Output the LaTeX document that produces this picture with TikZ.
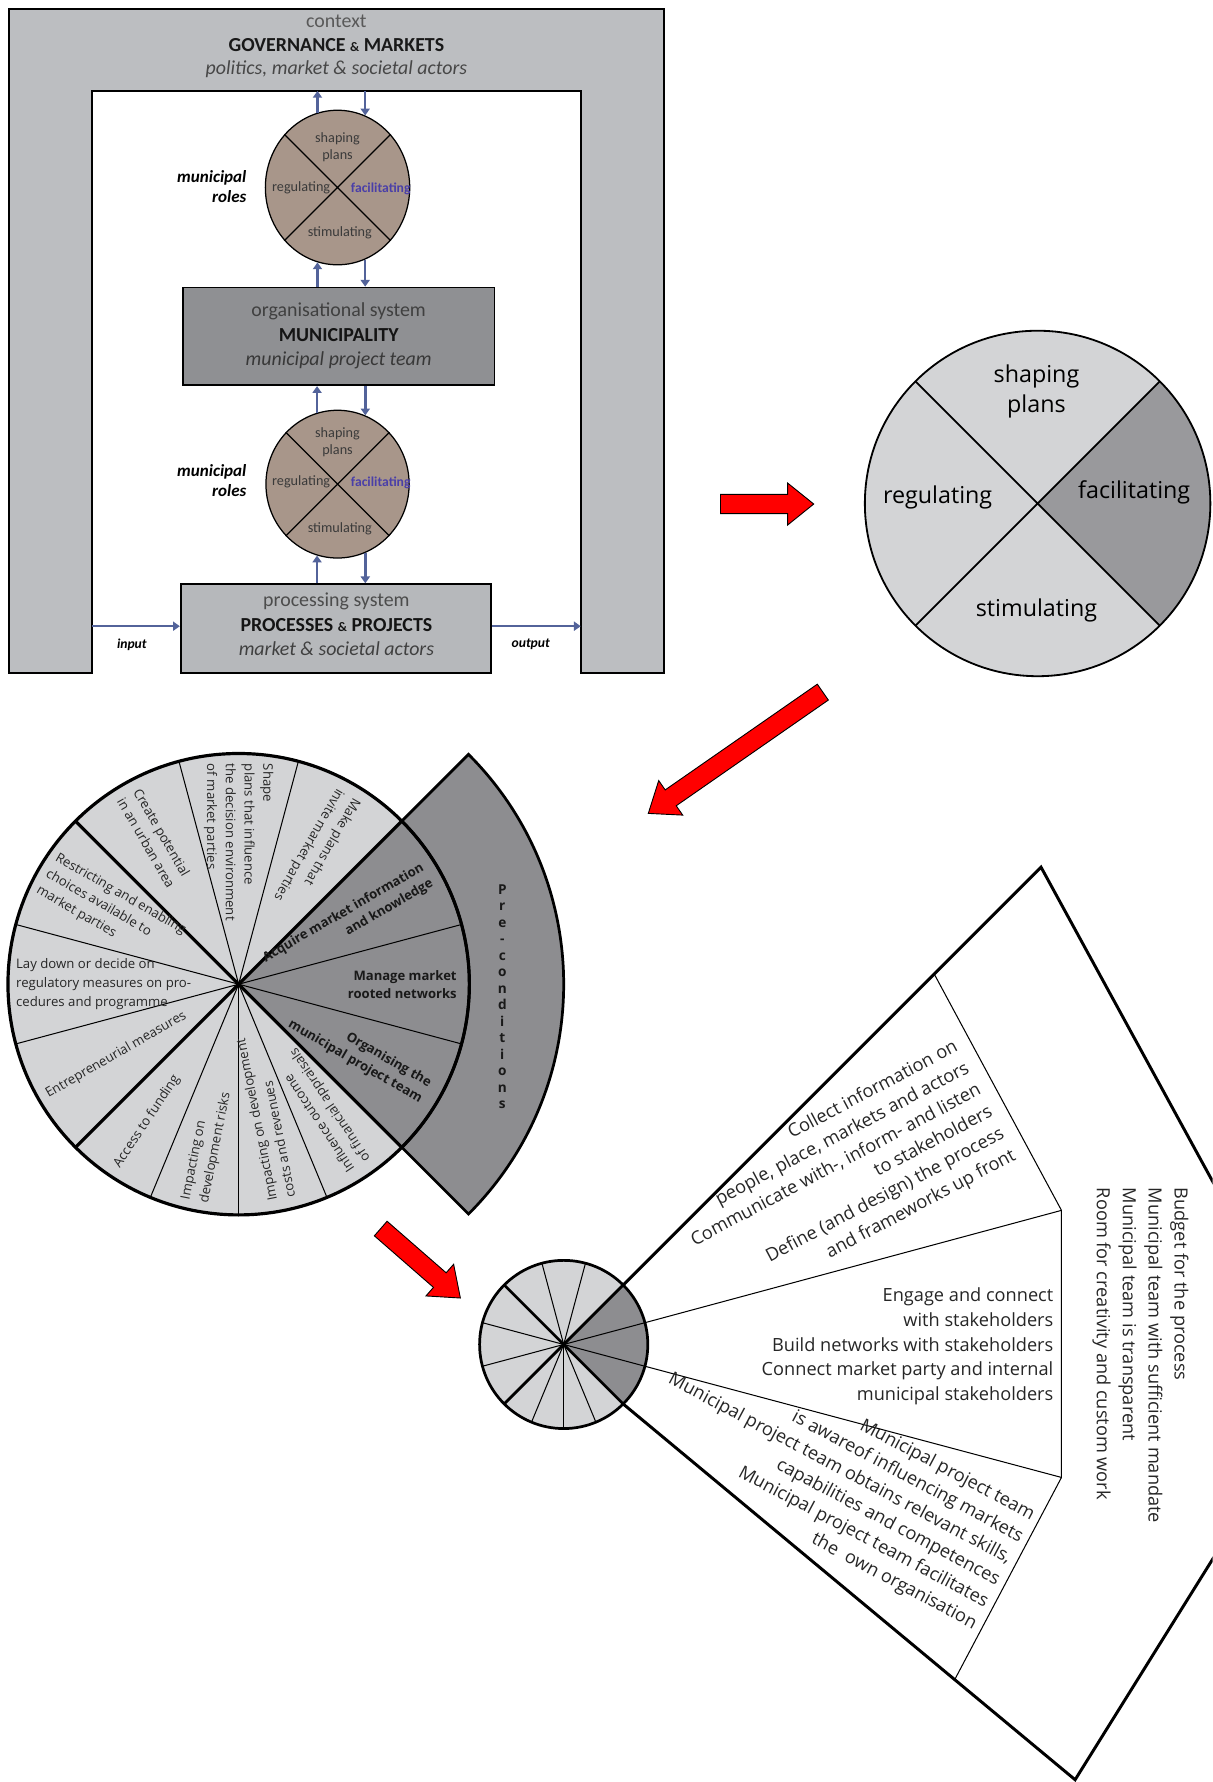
\documentclass[tikz,border=0pt]{standalone}
\usepackage{fontspec}
\setmainfont{Open Sans}
\newfontfamily\calfont{Carlito}
\usetikzlibrary{shapes.geometric,arrows.meta}

\definecolor{framegray}{HTML}{BCBEC1}
\definecolor{munigray}{HTML}{8F9093}
\definecolor{procgray}{HTML}{B6B8BB}
\definecolor{taupe}{HTML}{A8968A}
\definecolor{flowblue}{HTML}{53639A}
\definecolor{facblue}{HTML}{4A3FA8}
\definecolor{seclight}{HTML}{D3D4D6}
\definecolor{secdark}{HTML}{8D8D90}
\definecolor{roledark}{HTML}{99999C}
\definecolor{inkgray}{HTML}{3A3A3A}

\newcommand\fsz[2]{\fontsize{#1}{#2}\selectfont}

\begin{document}
\begin{tikzpicture}[x=1pt,y=1pt,
  frameline/.style={line width=1.5pt},
  flow/.style={draw=flowblue, line width=2.2pt, -{Triangle[length=6pt,width=8pt]}},
  toptext/.style={inner sep=0, font=\calfont\fsz{17.5}{20}},
  boxtext/.style={inner sep=0, font=\calfont\fsz{17.5}{20}},
  roletext/.style={inner sep=0, text=inkgray, align=center, font=\calfont\fsz{12.5}{15}},
  rolelabel/.style={inner sep=0, align=right, anchor=east, font=\calfont\bfseries\itshape\fsz{15}{18}},
  iolabel/.style={inner sep=0, font=\calfont\bfseries\itshape\fsz{12}{14}},
  rolesector/.style={inner sep=0, font=\fsz{20.5}{27}, align=center},
  wtext/.style={inner sep=0, align=left, anchor=west, text=black!85, font=\fsz{11.6}{16.5}},
  wbold/.style={inner sep=0, align=right, anchor=east, text=black!90, font=\bfseries\fsz{11.5}{16}},
  ftext/.style={inner sep=0, text=black!85, font=\fsz{16}{21.7}},
  thinline/.style={line width=0.9pt},
  thickline/.style={line width=2.8pt},
  redarr/.style={fill=red, draw=black, line width=0.8pt, line join=miter}
]
\useasboundingbox (0,0) rectangle (1067,-1568);
\fill[white] (0,0) rectangle (1067,-1568);

% ---------------- systems diagram ----------------
\draw[frameline, fill=framegray]
  (8,-592) -- (8,-8) -- (584,-8) -- (584,-592) -- (511,-592) -- (511,-80)
  -- (81,-80) -- (81,-592) -- cycle;
\coordinate (innerTop) at (81,-80);
\coordinate (inL) at (81,-551);
\coordinate (outR) at (511,-551);

\node[toptext, text=black!65] (ctxA) at (296,-19) {context};
\node[toptext, text=black!90] (ctxB) at (296,-40) {\bfseries GOVERNANCE {\fsz{11.5}{12}\&} MARKETS};
\node[toptext, text=black!72] (ctxC) at (296,-61) {\itshape politics, market \& societal actors};

\node[draw, frameline, fill=munigray, minimum width=274pt, minimum height=86pt, inner sep=0] (muni) at (298,-296) {};
\node[boxtext, text=black!75] (muniA) at (298,-274) {organisational system};
\node[boxtext, text=black!92] (muniB) at (298,-295) {\bfseries MUNICIPALITY};
\node[boxtext, text=black!78] (muniC) at (298,-317) {\itshape municipal project team};

\node[draw, frameline, fill=procgray, minimum width=273pt, minimum height=78pt, inner sep=0] (proc) at (295.5,-553) {};
\node[boxtext, text=black!70] (procA) at (296,-529) {processing system};
\node[boxtext, text=black!92] (procB) at (296,-550) {\bfseries PROCESSES {\fsz{11.5}{12}\&} PROJECTS};
\node[boxtext, text=black!75] (procC) at (296,-571) {\itshape market \& societal actors};

% role ellipses
\node[ellipse, draw, line width=1.1pt, fill=taupe, minimum width=127pt, minimum height=136pt, inner sep=0] (roleA) at (297,-165) {};
\draw[line width=1.1pt] (roleA.135) -- (roleA.-45) (roleA.45) -- (roleA.225);
\node[roletext] (roleAs) at (297,-129.5) {shaping\\plans};
\node[roletext] (roleAr) at (265,-165) {regulating};
\node[roletext, text=facblue, font=\calfont\bfseries\fsz{12}{15}] (roleAf) at (335,-166) {facilitating};
\node[roletext] (roleAt) at (299,-205) {stimulating};

\node[ellipse, draw, line width=1.1pt, fill=taupe, minimum width=126pt, minimum height=130pt, inner sep=0] (roleB) at (297,-426) {};
\draw[line width=1.1pt] (roleB.135) -- (roleB.-45) (roleB.45) -- (roleB.225);
\node[roletext] (roleBs) at (297,-389) {shaping\\plans};
\node[roletext] (roleBr) at (265,-424) {regulating};
\node[roletext, text=facblue, font=\calfont\bfseries\fsz{12}{15}] (roleBf) at (335,-425) {facilitating};
\node[roletext] (roleBt) at (299,-465) {stimulating};

\node[rolelabel] (mrA) at (217,-164) {municipal\\roles};
\node[rolelabel] (mrB) at (217,-423) {municipal\\roles};

% flows
\draw[flow] (roleA.105) -- (roleA.105 |- innerTop);
\draw[flow] (roleA.69 |- innerTop) -- (roleA.69);
\draw[flow] (muni.north -| roleA.255) -- (roleA.255);
\draw[flow] (roleA.291) -- (muni.north -| roleA.291);
\draw[flow] (roleB.106) -- (muni.south -| roleB.106);
\draw[flow] (muni.south -| roleB.68) -- (roleB.68);
\draw[flow] (proc.north -| roleB.254) -- (roleB.254);
\draw[flow] (roleB.292) -- (proc.north -| roleB.292);
\draw[flow] (inL) -- (inL -| proc.west);
\draw[flow] (outR -| proc.east) -- (outR);
\node[iolabel] (inLab) at (116,-567) {input};
\node[iolabel] (outLab) at (467,-567) {output};

% ---------------- red arrows ----------------
\begin{scope}[shift={(634,-443.5)}]
  \filldraw[redarr] (0,-8.5) -- (59,-8.5) -- (59,-18.5) -- (82,0) -- (59,18.5) -- (59,8.5) -- (0,8.5) -- cycle;
\end{scope}
\begin{scope}[shift={(724,-609)}, rotate=214.8]
  \filldraw[redarr] (0,-8.5) -- (163,-8.5) -- (163,-18.5) -- (187,0) -- (163,18.5) -- (163,8.5) -- (0,8.5) -- cycle;
\end{scope}
\begin{scope}[shift={(335,-1081)}, rotate=-41.1]
  \filldraw[redarr] (0,-8.5) -- (69,-8.5) -- (69,-18.5) -- (93,0) -- (69,18.5) -- (69,8.5) -- (0,8.5) -- cycle;
\end{scope}

% ---------------- four roles circle ----------------
\node[circle, minimum size=304pt, inner sep=0] (roles) at (913,-443) {};
\fill[seclight] (roles.center) circle[radius=152];
\fill[roledark] (roles.center) -- (roles.-45) arc[start angle=-45, end angle=45, radius=152] -- cycle;
\draw[line width=1.5pt] (roles.135) -- (roles.-45) (roles.45) -- (roles.225);
\draw[line width=1.6pt] (roles.center) circle[radius=152];
\node[rolesector] (rsA) at (912,-344.5) {shaping\\plans};
\node[rolesector] (rsB) at (825,-438) {regulating};
\node[rolesector] (rsC) at (998,-433) {facilitating};
\node[rolesector] (rsD) at (912,-537) {stimulating};

% ---------------- municipal roles wheel ----------------
\begin{scope}[shift={(210,-866)}]
  \coordinate (wc) at (0,0);
  \fill[seclight] (wc) circle[radius=203];
  \fill[secdark] (wc) -- (-45:203) arc[start angle=-45, end angle=45, radius=203] -- cycle;
  \draw[line width=2.4pt, fill=secdark] (45:203) -- (45:286) arc[start angle=45, end angle=-45, radius=286]
     -- (-45:203) arc[start angle=-45, end angle=45, radius=203] -- cycle;
  \foreach \a in {75,105,165,195,247.5,270,292.5,15,-15}
    \draw[thinline] (wc) -- (\a:203);
  \foreach \a in {45,135,225,315}
    \draw[thickline] (wc) -- (\a:203);
  \draw[thickline] (wc) circle[radius=203];

  \node[wtext, rotate=240] (w1) at (60:193) {Make plans that\\invite market parties};
  \node[wtext, rotate=270] (w2) at (90:194) {Shape\\plans that influence\\the decision environment\\of market parties};
  \node[wtext, rotate=300] (w3) at (120:193) {Create potential\\in an urban area};
  \node[wtext, rotate=330] (w4) at (150:195) {Restricting and enabling\\choices available to\\market parties};
  \node[wtext] (w5) at (180:196) {Lay down or decide on\\regulatory measures on pro-\\cedures and programme};
  \node[wtext, rotate=30] (w6) at (210:195) {Entrepreneurial measures};
  \node[wtext, rotate=56.25] (w7) at (236.25:193) {Access to funding};
  \node[wtext, rotate=78.75] (w8) at (258.75:195) {Impacting on\\development risks};
  \node[wtext, rotate=101.25] (w9) at (281.25:193) {Impacting on development\\costs and revenues};
  \node[wtext, rotate=123.75] (w10) at (303.75:192) {Influence outcome\\of financial appraisals};

  \node[wbold, rotate=30] (w11) at (30:192) {Acquire market information\\and knowledge};
  \node[wbold] (w12) at (0:192) {Manage market\\rooted networks};
  \node[wbold, rotate=-30] (w13) at (-30:190) {Organising the\\municipal project team};

  \node[inner sep=0, align=center, text=black!90, font=\bfseries\fsz{12}{14.5}] (pre) at (232,-11)
    {P\\r\\e\\-\\c\\o\\n\\d\\i\\t\\i\\o\\n\\s};
\end{scope}

% ---------------- small wheel and its fan ----------------
\node[circle, minimum size=148pt, inner sep=0] (sw) at (496,-1183) {};
\begin{scope}[shift={(496,-1183)}]
  \fill[seclight] (0,0) circle[radius=74];
  \fill[secdark] (0,0) -- (-45:74) arc[start angle=-45, end angle=45, radius=74] -- cycle;
  \foreach \a in {75,105,165,195,247.5,270,292.5,15,-15}
    \draw[thinline] (0,0) -- (\a:74);
  \foreach \a in {45,135,225,315}
    \draw[line width=2.4pt] (0,0) -- (\a:74);
  \draw[line width=2.4pt] (0,0) circle[radius=74];
\end{scope}

\coordinate (apex) at (916,-763);
\coordinate (rt) at (1100,-1100);
\coordinate (rb) at (1100,-1319);
\coordinate (bot) at (946,-1566);
\coordinate (i1) at (822,-857);
\coordinate (i2) at (934,-1065);
\coordinate (i3) at (934,-1300);
\coordinate (i4) at (840,-1478);

\begin{scope}
  \clip (0,0) rectangle (1067,-1568);
  \draw[line width=2.6pt, line join=miter] (sw.45) -- (apex) -- (rt) -- (rb) -- (bot) -- (sw.-45);
\end{scope}
\draw[thinline] (i1) -- (i2) -- (i3) -- (i4);
\draw[thinline] (sw.15) -- (i2);
\draw[thinline] (sw.-15) -- (i3);

\node[ftext, rotate=28, anchor=north east, align=right] (fanA) at (838,-913)
  {Collect information on\\people, place, markets and actors\\Communicate with-, inform- and listen\\to stakeholders\\Define (and design) the process\\and frameworks up front};
\node[ftext, anchor=north east, align=right] (fanB) at (927,-1133)
  {Engage and connect\hspace{4pt}\\with stakeholders\\Build networks with stakeholders\\Connect market party and internal\hspace{4pt}\\municipal stakeholders};
\node[ftext, rotate=-28, anchor=north east, align=right] (fanC) at (913,-1327)
  {Municipal project team\\is awareof influencing markets\\Municipal project team obtains relevant skills,\\capabilities and competences\\Municipal project team facilitates\\the\ \ own organisation};
\node[ftext, rotate=-90, anchor=north west, align=left, font=\fsz{16}{22.8}] (fanD) at (1046,-1045)
  {Budget for the process\\Municipal team with sufficient mandate\\Municipal team is transparent\\Room for creativity and custom work};
\end{tikzpicture}
\end{document}
